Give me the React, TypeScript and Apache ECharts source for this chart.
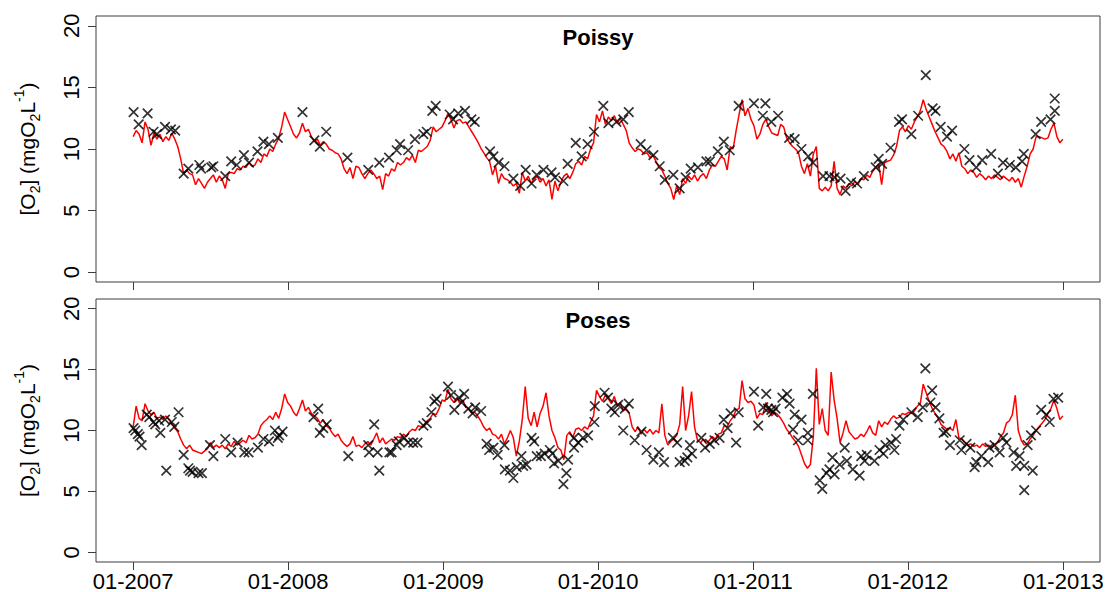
import React, { useEffect, useRef } from "react";
import * as echarts from "echarts";

// x values are days since 01-01-2007
const yearTickDays = [0, 365, 731, 1096, 1461, 1826, 2192];
const yearTickLabels = ["01-2007", "01-2008", "01-2009", "01-2010", "01-2011", "01-2012", "01-2013"];
const yTicks = [0, 5, 10, 15, 20];
const panelTitles = ["Poissy", "Poses"];
const LINE_STEP_DAYS = 7;

// simulated [O2] (red line), one value every 7 days from 01-01-2007
const poissySim = [
  11.0, 11.5, 11.2, 10.5, 12.2, 11.6, 10.3, 11.3, 10.8, 11.2,
  10.6, 11.0, 10.7, 11.3, 10.8, 10.2, 9.2, 8.0, 8.3, 8.0,
  7.9, 7.1, 7.6, 7.2, 6.8, 7.3, 7.6, 7.9, 7.3, 7.8,
  7.5, 6.8, 8.0, 8.1, 8.0, 8.4, 8.3, 8.6, 8.5, 8.9,
  8.6, 8.7, 9.2, 8.9, 9.6, 9.4, 10.0, 9.8, 10.4, 10.9,
  11.8, 13.0, 12.4,
  11.8, 11.2, 10.9, 11.3, 12.1, 11.4, 11.6, 11.0, 10.6, 10.8,
  10.3, 10.6, 10.4, 10.0, 9.9, 9.7, 9.6, 9.2, 8.4, 8.0,
  8.5, 7.6, 8.6, 8.5, 8.0, 7.6, 8.0, 8.3, 8.0, 7.6,
  7.8, 6.7, 8.0, 7.8, 8.4, 8.2, 8.9, 8.7, 8.9, 9.3,
  9.1, 9.5, 8.9, 9.9, 9.8, 10.0, 10.2, 10.7, 11.8, 11.4,
  11.6, 11.8,
  12.3, 12.9, 12.4, 11.7, 12.3, 12.4, 12.1, 12.2, 11.8, 11.4,
  11.0, 10.6, 10.1, 9.7, 9.3, 9.0, 7.9, 8.6, 7.2, 8.0,
  7.6, 7.5, 7.3, 7.0, 7.2, 6.4, 8.1, 7.4, 7.8, 7.2,
  7.6, 7.8, 7.3, 7.6, 7.0, 7.5, 5.9, 7.4, 6.6, 7.3,
  7.8, 8.0, 7.6, 8.1, 8.8, 9.0, 8.7, 9.4, 9.2, 10.0,
  10.5, 12.8,
  12.2, 13.1, 12.0, 12.6, 12.3, 12.7, 12.1, 12.5, 12.0, 11.5,
  10.5, 10.1, 9.8, 10.0, 9.9, 9.6, 9.7, 9.3, 9.5, 9.0,
  8.5, 8.3, 7.8, 7.2, 6.8, 5.9, 7.0, 6.3, 7.6, 7.2,
  7.8, 7.5, 7.9, 7.4, 7.8, 8.0, 7.6, 8.3, 8.7, 8.6,
  9.0, 9.4, 9.2, 8.3, 10.2, 10.0, 11.5, 12.8, 14.0, 12.7,
  13.3, 12.4,
  11.9, 10.8, 11.2, 12.0, 12.4, 11.8, 11.3, 11.2, 11.1, 12.0,
  11.8, 10.9, 10.5, 10.2, 10.0, 9.7, 8.6, 8.0, 8.8, 7.8,
  9.6, 10.2, 6.8, 6.6, 6.9, 6.6, 7.0, 9.0, 6.8, 6.3,
  7.0, 6.8, 7.2, 7.0, 7.4, 7.1, 7.6, 7.5, 7.9, 7.7,
  8.2, 8.5, 8.8, 7.1, 8.9, 9.0, 9.1, 9.5, 10.2, 11.5,
  11.8, 11.4,
  11.9, 11.6, 12.2, 12.6, 13.1, 14.0, 13.2, 12.6, 12.0, 11.4,
  10.9, 10.4, 10.2, 9.8, 9.2, 9.6, 9.0, 9.7, 8.6, 8.4,
  8.0, 8.3, 8.1, 7.7, 8.0, 7.8, 7.5, 7.8, 7.6, 7.9,
  7.7, 7.5, 7.8, 7.6, 7.4, 7.7, 7.3, 7.6, 6.9, 7.8,
  8.6, 9.6, 10.0, 11.0, 11.0, 10.9, 10.8, 10.9, 11.6, 12.1,
  11.0, 10.5, 10.8,
];

const posesSim = [
  10.3, 12.0, 11.0, 10.8, 12.2, 11.6, 11.3, 11.5, 11.0, 11.1,
  10.9, 11.2, 10.9, 10.6, 10.2, 9.9, 9.3, 8.8, 8.5, 8.8,
  8.4, 8.3, 8.2, 8.1, 8.3, 8.5, 9.0, 8.6, 8.8, 8.6,
  8.8, 8.5, 8.9, 8.7, 9.1, 8.8, 9.0, 9.2, 9.0, 9.6,
  9.3, 9.4, 9.7, 10.4, 10.7, 10.9, 11.2, 10.9, 11.5, 11.0,
  11.8, 13.0, 12.3,
  12.0, 11.5, 11.2, 11.8, 12.5, 11.6, 11.9, 11.4, 11.2, 11.0,
  10.6, 10.9, 10.4, 10.2, 9.8, 9.5, 9.7, 9.2, 8.9, 8.7,
  8.9, 9.5, 8.7, 8.8, 8.6, 8.9, 9.1, 8.8, 9.3, 9.8,
  9.0, 9.4, 8.9, 9.1, 9.3, 9.2, 9.5, 9.4, 9.7, 9.5,
  9.9, 10.1, 10.0, 10.4, 10.3, 10.5, 10.8, 11.0, 11.4, 11.3,
  11.8, 12.5,
  12.4, 13.4, 12.6, 12.3, 12.7, 12.2, 12.5, 11.9, 11.8, 11.4,
  11.5, 11.2, 10.8, 10.3, 10.0, 10.2, 9.7, 9.6, 9.3, 9.7,
  8.9, 9.4, 10.0, 9.4, 7.9, 9.1, 10.9, 13.6, 11.0, 10.4,
  11.5, 10.3, 11.4, 12.0, 13.1, 11.2, 10.0, 9.4, 8.6, 8.4,
  7.6, 9.6, 9.9, 9.4, 10.1, 10.2, 10.0, 10.3, 10.1, 10.7,
  11.2, 13.3,
  12.8, 12.4, 12.9, 12.6, 12.2, 12.8, 12.0, 12.3, 11.6, 11.8,
  11.4, 10.3, 9.9, 10.3, 9.7, 10.1, 9.8, 10.1, 9.7, 10.0,
  9.8, 12.2, 9.6, 8.8, 9.1, 9.3, 9.6, 10.5, 13.6, 10.0,
  11.2, 13.2, 10.3, 9.2, 9.0, 9.3, 8.9, 9.2, 9.5, 9.3,
  9.7, 9.8, 10.4, 10.3, 10.8, 11.1, 11.7, 11.8, 14.1, 12.6,
  12.3, 12.4,
  12.1, 11.0, 11.4, 11.3, 12.3, 11.6, 11.2, 11.5, 11.3, 11.0,
  10.6, 10.1, 9.8, 9.4, 9.1, 8.7, 8.0, 7.3, 6.9, 7.2,
  9.5, 15.1, 10.5, 11.8, 10.0, 9.6, 14.8, 12.5, 11.0, 9.0,
  9.8, 10.8, 9.9, 9.6, 9.3, 9.4, 9.7, 9.5, 9.9, 10.4,
  9.8, 9.6, 10.8, 10.3, 10.7, 10.5, 10.9, 11.2, 11.0, 11.1,
  11.4, 11.3,
  11.5, 11.4, 11.6, 12.0, 12.2, 13.8, 13.1, 12.4, 11.8, 11.4,
  11.0, 10.5, 10.3, 10.1, 10.2, 10.0, 10.9, 9.4, 9.3, 9.0,
  8.8, 8.9, 8.7, 8.8, 8.6, 8.9, 8.7, 8.8, 8.6, 8.8,
  9.0, 9.5, 9.8, 10.6, 10.8, 11.3, 12.9, 10.0, 9.2, 8.8,
  8.9, 9.3, 9.6, 10.0, 10.3, 10.6, 10.9, 11.4, 11.8, 12.5,
  11.8, 10.9, 11.2,
];

// observed [O2] (black crosses): [day since 01-01-2007, value]
const poissyObs = [
  [1, 13.0], [13, 12.0], [34, 12.9], [48, 11.4], [56, 11.2], [75, 11.8], [89, 11.6], [99, 11.5],
  [119, 8.0], [130, 8.4], [156, 8.7], [160, 8.4], [184, 8.5], [189, 8.6], [217, 7.8], [231, 9.0],
  [244, 8.7], [261, 9.5], [273, 8.9], [293, 9.8], [307, 10.6], [320, 10.4], [341, 10.9], [399, 13.0],
  [427, 10.7], [440, 10.2], [455, 11.4], [505, 9.3], [554, 8.3], [580, 8.9], [603, 9.3], [621, 9.9],
  [629, 10.4], [648, 9.9], [664, 10.8], [684, 11.2], [692, 11.4], [705, 13.1], [713, 13.5],
  [746, 12.8], [754, 12.4], [766, 12.9], [782, 13.1], [797, 12.4], [805, 12.2], [841, 9.8], [849, 9.4],
  [861, 8.9], [875, 8.6], [896, 7.6], [912, 7.0], [925, 8.3], [939, 7.2], [951, 7.9], [967, 8.3],
  [986, 8.1], [994, 7.7], [1014, 7.4], [1024, 8.8], [1043, 10.5], [1057, 9.4], [1071, 10.4], [1086, 11.4],
  [1108, 13.5], [1120, 12.1], [1139, 12.2], [1155, 12.4], [1168, 13.0], [1196, 10.4], [1210, 9.9],
  [1226, 9.5], [1241, 8.6], [1253, 7.5], [1273, 7.9], [1288, 6.8], [1302, 7.7], [1314, 8.4], [1331, 8.5],
  [1351, 9.0], [1359, 9.0], [1378, 9.8], [1392, 10.6], [1406, 9.9], [1427, 13.5], [1463, 13.7],
  [1484, 12.7], [1490, 13.7], [1504, 12.2],
  [1520, 12.7], [1546, 10.9], [1559, 10.8], [1575, 10.0], [1591, 9.4], [1602, 8.9], [1626, 7.8],
  [1641, 7.8], [1653, 7.7], [1667, 7.6], [1679, 6.6], [1692, 7.3], [1706, 7.2], [1722, 7.8], [1750, 8.5],
  [1757, 9.2], [1765, 8.8], [1785, 10.1], [1805, 12.2], [1812, 12.4], [1834, 11.2], [1850, 12.7],
  [1868, 16.0], [1884, 13.3], [1891, 13.1], [1903, 11.8], [1918, 11.0], [1930, 11.5], [1959, 10.0],
  [1971, 9.1], [1987, 8.5], [2001, 9.1], [2022, 9.6], [2038, 8.0], [2050, 8.9], [2066, 8.7], [2080, 8.5],
  [2095, 9.0], [2099, 9.6], [2127, 11.2], [2140, 12.2], [2162, 12.4], [2172, 13.1], [2172, 14.1],
];

const posesObs = [
  [1, 10.2], [5, 10.0], [11, 9.7], [15, 9.5], [20, 8.8], [32, 11.3], [38, 11.1], [48, 10.7], [52, 10.5],
  [61, 10.8], [64, 9.8], [75, 10.9], [78, 6.7], [91, 10.7], [97, 10.3], [107, 11.5], [119, 8.0], [130, 6.9],
  [134, 6.7], [140, 6.6], [154, 6.5], [162, 6.5], [181, 8.8], [189, 7.9], [217, 9.3], [231, 8.2], [246, 9.0],
  [262, 8.2], [272, 8.2], [294, 8.6], [307, 9.3], [320, 9.1], [334, 10.0], [341, 9.4], [344, 9.6], [352, 9.9],
  [425, 11.1], [436, 11.8], [440, 9.8], [448, 10.2], [456, 10.5], [507, 7.9], [554, 8.8], [556, 8.2],
  [568, 10.5], [576, 8.2], [580, 6.7], [604, 8.2], [609, 8.2], [621, 8.8], [626, 9.1], [639, 9.4],
  [648, 9.0], [660, 9.0], [670, 9.0], [684, 10.4], [692, 10.6], [703, 11.5], [710, 12.4], [715, 12.6],
  [742, 13.6], [749, 12.9], [757, 11.7], [768, 12.7], [774, 12.3], [780, 13.0], [790, 11.8], [800, 11.4],
  [806, 11.9], [820, 11.6], [833, 8.9], [839, 8.4], [849, 8.6], [859, 8.0], [875, 8.8], [876, 6.8],
  [888, 6.7], [896, 6.1], [904, 7.0], [915, 7.9], [919, 7.1], [927, 7.2], [939, 9.4], [945, 9.1],
  [951, 7.9], [961, 7.9], [970, 8.1], [982, 8.4], [988, 8.1], [992, 7.3], [1002, 7.5], [1014, 5.6],
  [1021, 6.5], [1025, 7.6], [1039, 9.4], [1039, 8.6], [1049, 9.0], [1060, 9.4], [1072, 9.6], [1087, 10.7],
  [1088, 12.0], [1111, 13.1], [1119, 12.7], [1127, 11.8], [1135, 11.5], [1143, 12.1], [1155, 10.0],
  [1159, 11.8], [1168, 12.2], [1182, 9.2], [1198, 9.9], [1210, 8.4], [1226, 7.6], [1239, 8.2], [1251, 7.4],
  [1272, 9.4], [1282, 9.0], [1288, 7.4], [1300, 7.5], [1306, 7.8], [1312, 8.8], [1317, 8.1], [1339, 9.4],
  [1348, 8.6], [1359, 8.9], [1370, 9.2], [1382, 9.4], [1392, 10.9], [1401, 10.2], [1408, 11.4], [1421, 9.0],
  [1427, 11.5], [1463, 13.2], [1473, 10.4], [1485, 11.9], [1492, 13.0], [1504, 11.7],
  [1496, 11.8], [1508, 11.5], [1514, 11.8], [1530, 12.7], [1541, 13.0], [1547, 12.2], [1555, 10.1],
  [1559, 11.3], [1567, 9.2], [1575, 10.9], [1590, 9.8], [1590, 9.2], [1602, 13.0], [1618, 5.9], [1624, 5.2],
  [1634, 6.5], [1641, 6.8], [1648, 7.8], [1653, 6.4], [1665, 7.2], [1677, 8.6], [1682, 7.5], [1696, 6.8],
  [1712, 6.3], [1716, 7.9], [1724, 7.5], [1729, 8.0], [1747, 7.5], [1759, 8.4], [1768, 8.1], [1773, 8.8],
  [1786, 9.0], [1794, 8.4], [1798, 9.3], [1806, 10.4], [1815, 10.9], [1834, 11.5], [1849, 11.1],
  [1861, 11.9], [1867, 15.1], [1879, 12.3], [1883, 13.3], [1891, 11.9], [1900, 11.0], [1910, 9.8],
  [1916, 9.9], [1925, 8.8], [1948, 9.2], [1952, 8.4], [1964, 8.9], [1973, 8.6], [1983, 7.0], [1987, 7.4],
  [1999, 7.9], [2015, 7.4], [2018, 8.6], [2030, 8.8], [2042, 8.2], [2050, 9.4], [2058, 9.0], [2075, 8.2],
  [2081, 7.1], [2089, 7.9], [2100, 7.1], [2100, 5.1], [2108, 8.8], [2116, 9.6], [2120, 6.7], [2128, 10.0],
  [2140, 11.7], [2152, 11.3], [2160, 10.7], [2169, 12.6], [2180, 12.7],
];

const FONT = "'Liberation Sans', Arial, Helvetica, sans-serif";
const AXIS_COLOR = "#3c3c3c";
const X_MIN = -87.6;
const X_MAX = 2278.6;
const Y_MIN = -0.8;
const Y_MAX = 20.8;
const CROSS = "path://M0,0L10,10M10,0L0,10";

function toLine(vals: number[]) {
  return vals.map((v, i) => [i * LINE_STEP_DAYS, v]);
}

export default function App() {
  const ref = useRef<HTMLDivElement>(null);
  useEffect(() => {
    if (!ref.current) return;
    const chart = echarts.init(ref.current, undefined, { renderer: "svg" });
    const grids = [
      { left: 96, top: 16, width: 1004, height: 266 },
      { left: 96, top: 299, width: 1004, height: 266 },
    ];
    const xAxes = [0, 1].map((g) => ({
      gridIndex: g,
      type: "value",
      position: "bottom",
      min: X_MIN,
      max: X_MAX,
      splitLine: { show: false },
      axisLine: { show: false, onZero: false },
      axisTick: {
        show: true,
        inside: false,
        length: 8,
        customValues: yearTickDays,
        lineStyle: { color: AXIS_COLOR, width: 1 },
      },
      axisLabel: {
        show: g === 1,
        customValues: yearTickDays,
        formatter: (v: number) => {
          const i = yearTickDays.indexOf(v);
          return i >= 0 ? yearTickLabels[i] : "";
        },
        color: "#000",
        fontSize: 22,
        fontFamily: FONT,
        margin: 8,
      },
    }));
    const yAxes = [0, 1].map((g) => ({
      gridIndex: g,
      type: "value",
      position: "left",
      min: Y_MIN,
      max: Y_MAX,
      splitLine: { show: false },
      axisLine: { show: false, onZero: false },
      axisTick: {
        show: true,
        inside: false,
        length: 8,
        customValues: yTicks,
        lineStyle: { color: AXIS_COLOR, width: 1 },
      },
      axisLabel: { show: false },
      name: "[O{sub|2}] (mgO{sub|2}L{sup|-1})",
      nameLocation: "middle",
      nameRotate: 90,
      nameGap: 54,
      nameTextStyle: {
        color: "#000",
        fontSize: 21,
        fontFamily: FONT,
        rich: {
          sub: { fontSize: 14, fontFamily: FONT, color: "#000", verticalAlign: "bottom", lineHeight: 30 },
          sup: { fontSize: 14, fontFamily: FONT, color: "#000", verticalAlign: "top", lineHeight: 30 },
        },
      },
    }));
    const sims = [poissySim, posesSim];
    const obs = [poissyObs, posesObs];
    const series: any[] = [];
    [0, 1].forEach((g) => {
      series.push({
        type: "line",
        xAxisIndex: g,
        yAxisIndex: g,
        data: toLine(sims[g]),
        showSymbol: false,
        symbol: "none",
        lineStyle: { color: "#ff0000", width: 1.5 },
        z: 2,
      });
      series.push({
        type: "scatter",
        xAxisIndex: g,
        yAxisIndex: g,
        data: obs[g],
        symbol: CROSS,
        symbolSize: 9.5,
        itemStyle: { color: "rgba(0,0,0,0)", borderColor: "#000", borderWidth: 1.7 },
        z: 3,
      });
    });
    const titleGraphics = panelTitles.map((t, i) => ({
      type: "text",
      x: 598,
      y: i === 0 ? 37 : 320,
      style: {
        text: t,
        font: `bold 22px ${FONT}`,
        fill: "#000",
        textAlign: "center",
        textVerticalAlign: "middle",
      },
      z: 10,
    }));
    chart.setOption({
      animation: false,
      backgroundColor: "#fff",
      grid: grids.map((g) => ({ ...g, show: true, borderColor: AXIS_COLOR, borderWidth: 1, backgroundColor: "transparent" })),
      xAxis: xAxes,
      yAxis: yAxes,
      series,
      graphic: titleGraphics,
    });
    // y tick labels, written parallel to the axis (as in R), placed via the y scales
    const yLabelGraphics: any[] = [];
    [0, 1].forEach((g) => {
      yTicks.forEach((v) => {
        const py = chart.convertToPixel({ yAxisIndex: g } as any, v) as number;
        yLabelGraphics.push({
          type: "text",
          x: 71,
          y: py,
          rotation: Math.PI / 2,
          style: {
            text: String(v),
            font: `22px ${FONT}`,
            fill: "#000",
            textAlign: "center",
            textVerticalAlign: "middle",
          },
          z: 10,
        });
      });
    });
    chart.setOption({ graphic: [...titleGraphics, ...yLabelGraphics] });
    return () => chart.dispose();
  }, []);
  return (
    <div
      ref={ref}
      style={{ position: "absolute", left: 0, top: 0, width: 1107, height: 592, background: "#fff" }}
    />
  );
}
